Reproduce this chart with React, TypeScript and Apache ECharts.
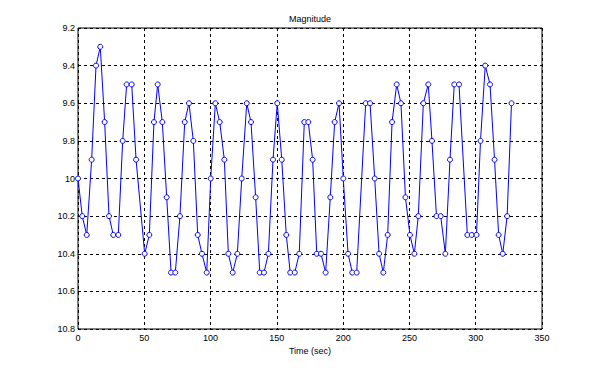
import React, { useEffect, useRef } from "react";
import * as echarts from "echarts";

const times = [
  0, 3.2, 6.6, 10.3, 13.6, 16.8, 20.1, 23.4, 26.6, 30.4,
  33.7, 36.7, 40.5, 43.8, 50.3, 53.8, 57.3, 60.1, 63.6, 66.9,
  70.2, 73.4, 76.9, 80.5, 83.7, 87.0, 90.3, 93.5, 97.1, 100.1,
  103.6, 106.9, 110.4, 113.4, 116.7, 120.2, 123.5, 127.3, 130.5, 134.0,
  137.1, 140.3, 143.6, 147.1, 150.3, 153.7, 157.1, 160.1, 163.5, 166.9,
  170.7, 173.7, 177.0, 180.1, 183.3, 186.8, 190.3, 193.6, 196.9, 200.1,
  203.7, 206.9, 210.2, 217.0, 220.3, 223.8, 227.1, 230.3, 233.6, 236.9,
  240.4, 243.6, 247.0, 250.4, 253.7, 256.7, 260.5, 264.2, 267.0, 270.4,
  273.6, 277.1, 280.6, 283.8, 287.4, 293.7, 297.0, 300.6, 303.6, 307.2,
  310.8, 314.2, 317.3, 320.4, 323.7, 327.0,
];

const magnitude = [
  10.0, 10.2, 10.3, 9.9, 9.4, 9.3, 9.7, 10.2, 10.3, 10.3,
  9.8, 9.5, 9.5, 9.9, 10.4, 10.3, 9.7, 9.5, 9.7, 10.1,
  10.5, 10.5, 10.2, 9.7, 9.6, 9.8, 10.3, 10.4, 10.5, 10.0,
  9.6, 9.7, 9.9, 10.4, 10.5, 10.4, 10.0, 9.6, 9.7, 10.1,
  10.5, 10.5, 10.4, 9.9, 9.6, 9.9, 10.3, 10.5, 10.5, 10.4,
  9.7, 9.7, 9.9, 10.4, 10.4, 10.5, 10.1, 9.7, 9.6, 10.0,
  10.4, 10.5, 10.5, 9.6, 9.6, 10.0, 10.4, 10.5, 10.3, 9.7,
  9.5, 9.6, 10.1, 10.3, 10.4, 10.2, 9.6, 9.5, 9.8, 10.2,
  10.2, 10.4, 9.9, 9.5, 9.5, 10.3, 10.3, 10.3, 9.8, 9.4,
  9.5, 9.9, 10.3, 10.4, 10.2, 9.6,
];

const chartTitle = "Magnitude";
const xAxisTitle = "Time (sec)";

export default function App() {
  const ref = useRef<HTMLDivElement>(null);
  useEffect(() => {
    if (!ref.current) return;
    const chart = echarts.init(ref.current, null, { renderer: "svg" });
    const font = "'Liberation Sans', Arial, sans-serif";
    const gridLine = { show: true, lineStyle: { color: "#000", type: [3, 3] as any, width: 1 } };
    chart.setOption({
      animation: false,
      backgroundColor: "#fff",
      grid: {
        left: 78, right: 58, top: 28, bottom: 43,
        show: true, borderColor: "#000", borderWidth: 1, backgroundColor: "transparent",
      },
      graphic: [
        {
          type: "text", x: 310, y: 19,
          style: { text: chartTitle, fill: "#000", font: `9px ${font}`, align: "center", verticalAlign: "middle" },
        },
      ],
      xAxis: {
        type: "value", min: 0, max: 350, interval: 50,
        name: xAxisTitle, nameLocation: "middle", nameGap: 17,
        nameTextStyle: { color: "#000", fontSize: 9, fontFamily: font },
        axisLine: { show: false }, axisTick: { show: false },
        axisLabel: { color: "#000", fontSize: 9, fontFamily: font, margin: 4 },
        splitLine: gridLine,
      },
      yAxis: {
        type: "value", min: 9.2, max: 10.8, interval: 0.2, inverse: true,
        axisLine: { show: false }, axisTick: { show: false },
        axisLabel: {
          color: "#000", fontSize: 9, fontFamily: font, margin: 3,
          formatter: (v: number) => String(parseFloat(v.toFixed(1))),
        },
        splitLine: gridLine,
      },
      series: [
        {
          type: "line",
          data: times.map((t, i) => [t, magnitude[i]]),
          symbol: "circle", symbolSize: 5,
          lineStyle: { color: "#0000ff", width: 1 },
          itemStyle: { color: "#ffffff", borderColor: "#0000ff", borderWidth: 1 },
        },
      ],
    });
    return () => chart.dispose();
  }, []);
  return <div ref={ref} style={{ width: 600, height: 372, position: "absolute", left: 0, top: 0 }} />;
}
